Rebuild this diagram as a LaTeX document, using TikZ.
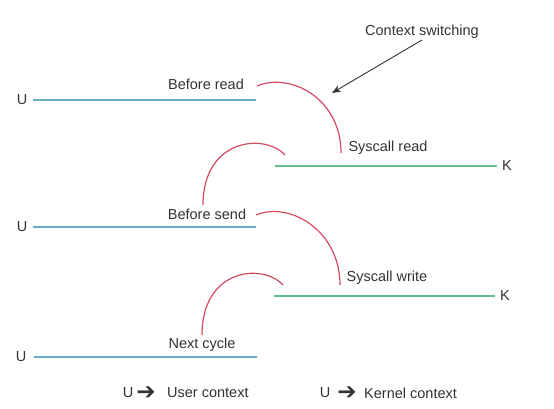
\documentclass[tikz,border=0pt]{standalone}
\usepackage{fontspec}
\setmainfont{Liberation Sans}
\newfontfamily\symfont{DejaVu Sans}
\usetikzlibrary{arrows.meta}
\definecolor{ublue}{HTML}{6AAACB}
\definecolor{kgreen}{HTML}{62C08E}
\definecolor{swred}{HTML}{D44A63}
\definecolor{txt}{HTML}{333333}
\tikzset{
  lbl/.style={text=txt, font=\fontsize{14.5}{17}\selectfont, inner sep=1pt},
  userline/.style={draw=ublue, line width=1.5pt},
  kernline/.style={draw=kgreen, line width=1.5pt},
  switcharc/.style={draw=swred, line width=1.2pt},
  pointer/.style={draw=txt, line width=0.9pt, -{Stealth[length=9pt,width=7pt]}},
  bigarrow/.style={text=txt, font=\symfont\fontsize{23}{23}\selectfont, inner sep=0pt}
}
\begin{document}
\begin{tikzpicture}[x=1pt,y=1pt]
\path[use as bounding box, fill=white] (0,0) rectangle (554,408);

% user lines
\node[lbl] (u1) at (22,308) {U};
\coordinate (l1s) at (33,308); \coordinate (l1e) at (256,308);
\draw[userline] (l1s) -- (l1e);
\node[lbl] (u2) at (22,181) {U};
\coordinate (l2s) at (33,181); \coordinate (l2e) at (256,181);
\draw[userline] (l2s) -- (l2e);
\node[lbl] (u3) at (21,51) {U};
\coordinate (l3s) at (34,51); \coordinate (l3e) at (257,51);
\draw[userline] (l3s) -- (l3e);

% kernel lines
\node[lbl] (k1) at (507,242) {K};
\coordinate (g1s) at (275,242); \coordinate (g1e) at (497,242);
\draw[kernline] (g1s) -- (g1e);
\node[lbl] (k2) at (505,112) {K};
\coordinate (g2s) at (274,112); \coordinate (g2e) at (495,112);
\draw[kernline] (g2s) -- (g2e);

% labels
\node[lbl] (br) at (206,324) {Before read};
\node[lbl] (sr) at (388,260) {Syscall read};
\node[lbl] (bs) at (207,194) {Before send};
\node[lbl] (sw) at (387,130) {Syscall write};
\node[lbl] (nc) at (202,63) {Next cycle};
\node[lbl] (ctx) at (422,376) {Context switching};

% switching arcs
\coordinate (a1s) at (257,322); \coordinate (a1e) at (341,255);
\draw[switcharc] (a1s) .. controls (290,336) and (341,310) .. (a1e);
\coordinate (a2s) at (285,253); \coordinate (a2e) at (203,203);
\draw[switcharc] (a2s) .. controls (265,275) and (203,270) .. (a2e);
\coordinate (a3s) at (256,193); \coordinate (a3e) at (340,123);
\draw[switcharc] (a3s) .. controls (289,207) and (340,178) .. (a3e);
\coordinate (a4s) at (283,123); \coordinate (a4e) at (202,73);
\draw[switcharc] (a4s) .. controls (263,145) and (202,140) .. (a4e);

% pointer
\coordinate (tip) at (332,315);
\draw[pointer] (ctx.south) -- (tip);

% legend
\node[lbl] (lu1) at (128,15) {U};
\node[bigarrow] (la1) at (146,15) {➔};
\node[lbl, anchor=west] (lt1) at (166,15) {User context};
\node[lbl] (lu2) at (325,15) {U};
\node[bigarrow] (la2) at (347,15) {➔};
\node[lbl, anchor=west] (lt2) at (363,15) {Kernel context};
\end{tikzpicture}
\end{document}
